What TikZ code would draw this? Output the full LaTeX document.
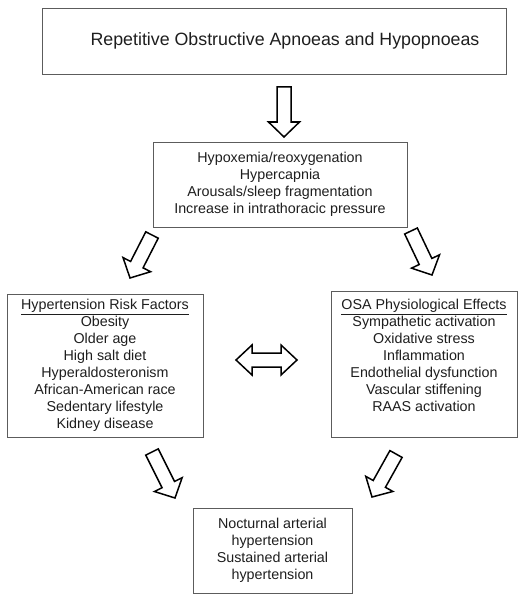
\documentclass[tikz,border=0pt]{standalone}
\usepackage{fontspec}
\setmainfont{Liberation Sans}
\usetikzlibrary{calc}

\definecolor{boxgray}{HTML}{5C5C5C}
\definecolor{inkgray}{HTML}{1E1E1E}

% hollow block arrow from tail #1 to tip #2
\newcommand{\fatarrow}[2]{%
  \coordinate (fa-n) at ($(#2)!15pt!(#1)$);
  \draw[fat] ($(#1)!7pt!90:(#2)$) -- ($(fa-n)!7pt!-90:(#1)$) -- ($(fa-n)!15.5pt!-90:(#1)$) -- (#2)
    -- ($(fa-n)!15.5pt!90:(#1)$) -- ($(fa-n)!7pt!90:(#1)$) -- ($(#1)!7pt!-90:(#2)$) -- cycle;
}
% hollow block arrow with heads at both ends
\newcommand{\fatdarrow}[2]{%
  \coordinate (fa-a) at ($(#1)!16pt!(#2)$);
  \coordinate (fa-b) at ($(#2)!16pt!(#1)$);
  \draw[fat] (#1) -- ($(fa-a)!15pt!90:(#2)$) -- ($(fa-a)!7pt!90:(#2)$) -- ($(fa-b)!7pt!-90:(#1)$)
    -- ($(fa-b)!15pt!-90:(#1)$) -- (#2) -- ($(fa-b)!15pt!90:(#1)$) -- ($(fa-b)!7pt!90:(#1)$)
    -- ($(fa-a)!7pt!-90:(#2)$) -- ($(fa-a)!15pt!-90:(#2)$) -- cycle;
}

\begin{document}
\begin{tikzpicture}[x=1pt, y=-1pt,
  box/.style={draw=boxgray, line width=0.9pt, inner sep=0pt, align=center, text=inkgray,
    font=\fontsize{14.3}{17}\selectfont},
  fat/.style={draw=black, fill=white, line width=1.5pt, line join=miter}]
  \useasboundingbox (0,0) rectangle (524,599);

  % Boxes
  \node[box, minimum width=464pt, minimum height=66pt, font=\fontsize{17.8}{20}\selectfont]
    (apnoea) at (274,41) {\hspace*{22pt}Repetitive Obstructive Apnoeas and Hypopnoeas};
  \node[box, minimum width=254pt, minimum height=85pt] (events) at (280,184.5)
    {Hypoxemia/reoxygenation\\Hypercapnia\\Arousals/sleep fragmentation\\Increase in intrathoracic pressure};
  \node[box, minimum width=196pt, minimum height=143pt] (risk) at (105,365.5)
    {\underline{Hypertension Risk Factors}\\Obesity\\Older age\\High salt diet\\Hyperaldosteronism\\African-American race\\Sedentary lifestyle\\Kidney disease};
  \node[box, minimum width=186pt, minimum height=146pt] (osa) at (424,364)
    {\underline{OSA Physiological Effects}\\Sympathetic activation\\Oxidative stress\\Inflammation\\Endothelial dysfunction\\Vascular stiffening\\RAAS activation\\\mbox{}};
  \node[box, minimum width=159pt, minimum height=85pt] (htn) at (272.5,550.5)
    {Nocturnal arterial\\hypertension\\Sustained arterial\\hypertension};

  % Arrow ends
  \coordinate (t0) at (284,87);  \coordinate (h0) at (284,137); % below apnoea box
  \coordinate (t1) at (152,235); \coordinate (h1) at (130,278); % to risk factors
  \coordinate (t2) at (411,231); \coordinate (h2) at (432,275); % to OSA effects
  \coordinate (t3) at (152,452); \coordinate (h3) at (175,498); % risk -> htn
  \coordinate (t4) at (396,454); \coordinate (h4) at (372,497); % OSA -> htn
  \coordinate (dl) at (236,360); \coordinate (dr) at (297,360); % both ways

  % Arrows
  \fatarrow{t0}{h0}
  \fatarrow{t1}{h1}
  \fatarrow{t2}{h2}
  \fatarrow{t3}{h3}
  \fatarrow{t4}{h4}
  \fatdarrow{dl}{dr}
\end{tikzpicture}
\end{document}
